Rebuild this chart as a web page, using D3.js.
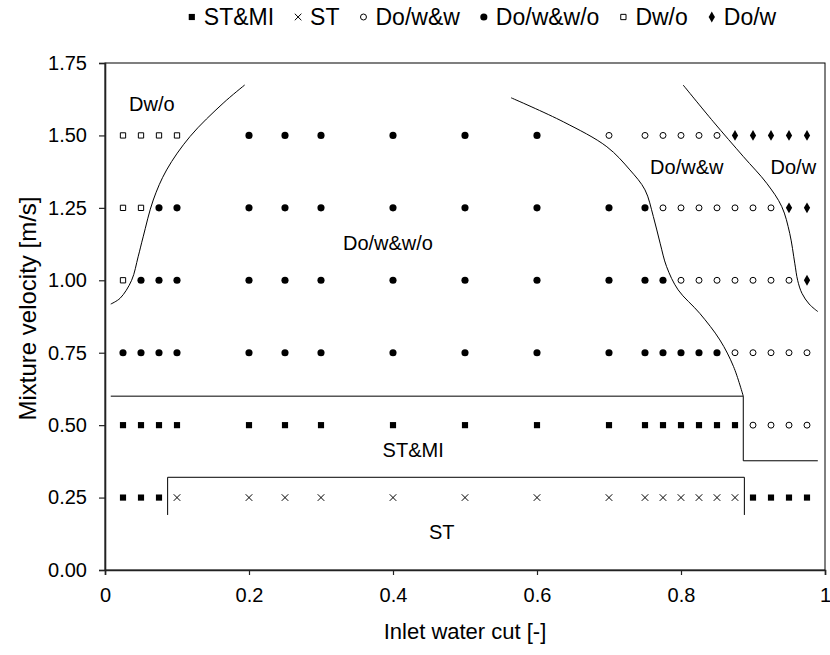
<!DOCTYPE html>
<html>
<head>
<meta charset="utf-8">
<script src="https://cdn.jsdelivr.net/npm/d3@7"></script>
<style>
  html, body { margin: 0; padding: 0; background: #fff; }
  svg { display: block; font-family: "Liberation Sans", Arial, sans-serif; }
</style>
</head>
<body>
<svg id="chart" width="830" height="655"></svg>
<script>
// Observed flow patterns: [inlet water cut, mixture velocity]
const stmiPoints = [
  [0.025, 0.5], [0.05, 0.5], [0.075, 0.5], [0.1, 0.5], [0.2, 0.5], [0.25, 0.5], [0.3, 0.5],
  [0.4, 0.5], [0.5, 0.5], [0.6, 0.5], [0.7, 0.5], [0.75, 0.5], [0.775, 0.5], [0.8, 0.5],
  [0.825, 0.5], [0.85, 0.5], [0.875, 0.5],
  [0.025, 0.25], [0.05, 0.25], [0.075, 0.25], [0.9, 0.25], [0.925, 0.25], [0.95, 0.25], [0.975, 0.25]
];
const stPoints = [
  [0.1, 0.25], [0.2, 0.25], [0.25, 0.25], [0.3, 0.25], [0.4, 0.25], [0.5, 0.25], [0.6, 0.25],
  [0.7, 0.25], [0.75, 0.25], [0.775, 0.25], [0.8, 0.25], [0.825, 0.25], [0.85, 0.25], [0.875, 0.25]
];
const dowwPoints = [
  [0.7, 1.5], [0.75, 1.5], [0.775, 1.5], [0.8, 1.5], [0.825, 1.5], [0.85, 1.5],
  [0.775, 1.25], [0.8, 1.25], [0.825, 1.25], [0.85, 1.25], [0.875, 1.25], [0.9, 1.25], [0.925, 1.25],
  [0.8, 1.0], [0.825, 1.0], [0.85, 1.0], [0.875, 1.0], [0.9, 1.0], [0.925, 1.0], [0.95, 1.0],
  [0.875, 0.75], [0.9, 0.75], [0.925, 0.75], [0.95, 0.75], [0.975, 0.75],
  [0.9, 0.5], [0.925, 0.5], [0.95, 0.5], [0.975, 0.5]
];
const dowwoPoints = [
  [0.2, 1.5], [0.25, 1.5], [0.3, 1.5], [0.4, 1.5], [0.5, 1.5], [0.6, 1.5],
  [0.075, 1.25], [0.1, 1.25], [0.2, 1.25], [0.25, 1.25], [0.3, 1.25], [0.4, 1.25], [0.5, 1.25],
  [0.6, 1.25], [0.7, 1.25], [0.75, 1.25],
  [0.05, 1.0], [0.075, 1.0], [0.1, 1.0], [0.2, 1.0], [0.25, 1.0], [0.3, 1.0], [0.4, 1.0],
  [0.5, 1.0], [0.6, 1.0], [0.7, 1.0], [0.75, 1.0], [0.775, 1.0],
  [0.025, 0.75], [0.05, 0.75], [0.075, 0.75], [0.1, 0.75], [0.2, 0.75], [0.25, 0.75], [0.3, 0.75],
  [0.4, 0.75], [0.5, 0.75], [0.6, 0.75], [0.7, 0.75], [0.75, 0.75], [0.775, 0.75], [0.8, 0.75],
  [0.825, 0.75], [0.85, 0.75]
];
const dwoPoints = [
  [0.025, 1.5], [0.05, 1.5], [0.075, 1.5], [0.1, 1.5],
  [0.025, 1.25], [0.05, 1.25],
  [0.025, 1.0]
];
const dowPoints = [
  [0.875, 1.5], [0.9, 1.5], [0.925, 1.5], [0.95, 1.5], [0.975, 1.5],
  [0.95, 1.25], [0.975, 1.25],
  [0.975, 1.0]
];

// Transition boundaries drawn between regimes
const boundaryDwo = [
  [0.008, 0.918], [0.021, 0.938], [0.037, 1.0], [0.046, 1.081], [0.053, 1.15], [0.067, 1.277],
  [0.0856, 1.381], [0.118, 1.496], [0.164, 1.611], [0.194, 1.674]
];
const boundaryDoww = [
  [0.564, 1.63], [0.6366, 1.547], [0.697, 1.461], [0.729, 1.381], [0.75, 1.312], [0.7616, 1.22],
  [0.771, 1.128], [0.78, 1.047], [0.796, 0.967], [0.826, 0.886], [0.854, 0.794], [0.873, 0.702],
  [0.8865, 0.6]
];
const boundaryDow = [
  [0.803, 1.674], [0.845, 1.547], [0.8866, 1.427], [0.919, 1.335], [0.94, 1.254], [0.951, 1.162],
  [0.958, 1.059], [0.962, 1.0], [0.968, 0.955], [0.978, 0.918], [0.99, 0.892]
];
const boundaryStmi = [[0.008, 0.6], [0.8865, 0.6], [0.8865, 0.377], [0.99, 0.377]];
const boundarySt = [[0.087, 0.19], [0.087, 0.32], [0.888, 0.32], [0.888, 0.19]];

// Region labels
const regionLabels = [
  { text: "Dw/o", x: 0.065, y: 1.61 },
  { text: "Do/w&w/o", x: 0.393, y: 1.128 },
  { text: "Do/w&w", x: 0.808, y: 1.392 },
  { text: "Do/w", x: 0.956, y: 1.392 },
  { text: "ST&MI", x: 0.428, y: 0.414 },
  { text: "ST", x: 0.4676, y: 0.132 }
];

const xTicks = [0, 0.2, 0.4, 0.6, 0.8, 1];
const yTicks = [0, 0.25, 0.5, 0.75, 1.0, 1.25, 1.5, 1.75];

const series = [
  { name: "ST&MI", points: stmiPoints, type: "filledSquare" },
  { name: "ST", points: stPoints, type: "times" },
  { name: "Do/w&w", points: dowwPoints, type: "openCircle" },
  { name: "Do/w&w/o", points: dowwoPoints, type: "filledCircle" },
  { name: "Dw/o", points: dwoPoints, type: "openSquare" },
  { name: "Do/w", points: dowPoints, type: "diamond" }
];

const svg = d3.select("#chart");
const plotLeft = 105, plotRight = 825, plotTop = 63, plotBottom = 570;

const x = d3.scaleLinear().domain([0, 1]).range([plotLeft, plotRight]);
const y = d3.scaleLinear().domain([0, 1.75]).range([plotBottom, plotTop]);

// Marker drawing
function marker(sel, type) {
  const styles = {
    filledSquare: { sym: d3.symbolSquare, size: 38, fill: "#000", stroke: "none" },
    times: { sym: d3.symbolTimes, size: 30, fill: "none", stroke: "#000", sw: 1 },
    openCircle: { sym: d3.symbolCircle, size: 28, fill: "#fff", stroke: "#000", sw: 1 },
    filledCircle: { sym: d3.symbolCircle, size: 40, fill: "#000", stroke: "none" },
    openSquare: { sym: d3.symbolSquare, size: 28, fill: "#fff", stroke: "#000", sw: 1 },
    diamond: { sym: d3.symbolDiamond, size: 34, fill: "#000", stroke: "none" }
  };
  const s = styles[type];
  sel.attr("d", d3.symbol().type(s.sym).size(s.size)())
     .attr("fill", s.fill)
     .attr("stroke", s.stroke)
     .attr("stroke-width", s.sw || 0);
}

// Plot frame
svg.append("rect")
  .attr("x", plotLeft).attr("y", plotTop)
  .attr("width", plotRight - plotLeft).attr("height", plotBottom - plotTop)
  .attr("fill", "none").attr("stroke", "#000").attr("stroke-width", 1);

// Axes
const yAxis = svg.append("g")
  .attr("transform", `translate(${plotLeft},0)`)
  .call(d3.axisLeft(y).tickValues(yTicks).tickFormat(d3.format(".2f")).tickSize(6).tickPadding(12));
const xAxis = svg.append("g")
  .attr("transform", `translate(0,${plotBottom})`)
  .call(d3.axisBottom(x).tickValues(xTicks).tickFormat(d => d === 0 || d === 1 ? d3.format("d")(d) : d3.format(".1f")(d)).tickSize(5).tickPadding(13));

[xAxis, yAxis].forEach(g => {
  g.select(".domain").attr("stroke", "#222").attr("stroke-width", 1.6);
  g.selectAll(".tick line").attr("stroke", "#222").attr("stroke-width", 1.2);
  g.selectAll(".tick text").attr("font-size", 20).attr("fill", "#000")
    .attr("font-family", "'Liberation Sans', Arial, sans-serif");
});

// Axis titles
svg.append("text")
  .attr("x", (plotLeft + plotRight) / 2).attr("y", 639)
  .attr("text-anchor", "middle").attr("font-size", 22).text("Inlet water cut [-]");
svg.append("text")
  .attr("transform", `translate(30,${(plotTop + plotBottom) / 2 - 8}) rotate(-90)`)
  .attr("text-anchor", "middle").attr("dominant-baseline", "middle")
  .attr("font-size", 24).text("Mixture velocity [m/s]");

// Boundaries
const smooth = d3.line().x(d => x(d[0])).y(d => y(d[1])).curve(d3.curveCatmullRom.alpha(0.5));
const straight = d3.line().x(d => x(d[0])).y(d => y(d[1]));
[boundaryDwo, boundaryDoww, boundaryDow].forEach(b => {
  svg.append("path").attr("d", smooth(b)).attr("fill", "none").attr("stroke", "#000").attr("stroke-width", 1);
});
[boundaryStmi, boundarySt].forEach(b => {
  svg.append("path").attr("d", straight(b)).attr("fill", "none").attr("stroke", "#000").attr("stroke-width", 1);
});

// Data markers
series.forEach(s => {
  svg.append("g").selectAll("path")
    .data(s.points).join("path")
    .attr("transform", d => `translate(${x(d[0])},${y(d[1])})`)
    .call(marker, s.type);
});

// Region labels
svg.append("g").selectAll("text")
  .data(regionLabels).join("text")
  .attr("x", d => x(d.x)).attr("y", d => y(d.y))
  .attr("text-anchor", "middle").attr("dominant-baseline", "central")
  .attr("font-size", 20).text(d => d.text);

// Legend across the top
const legend = svg.append("g");
let cx = 0;
series.forEach(s => {
  const item = legend.append("g").attr("transform", `translate(${cx},0)`);
  item.append("path").call(marker, s.type);
  const t = item.append("text").attr("x", 12).attr("dominant-baseline", "central")
    .attr("font-size", 23).text(s.name);
  cx += 12 + t.node().getComputedTextLength() + 24;
});
const legendWidth = cx - 24;
legend.attr("transform", `translate(${484 - legendWidth / 2},17)`);
</script>
</body>
</html>
